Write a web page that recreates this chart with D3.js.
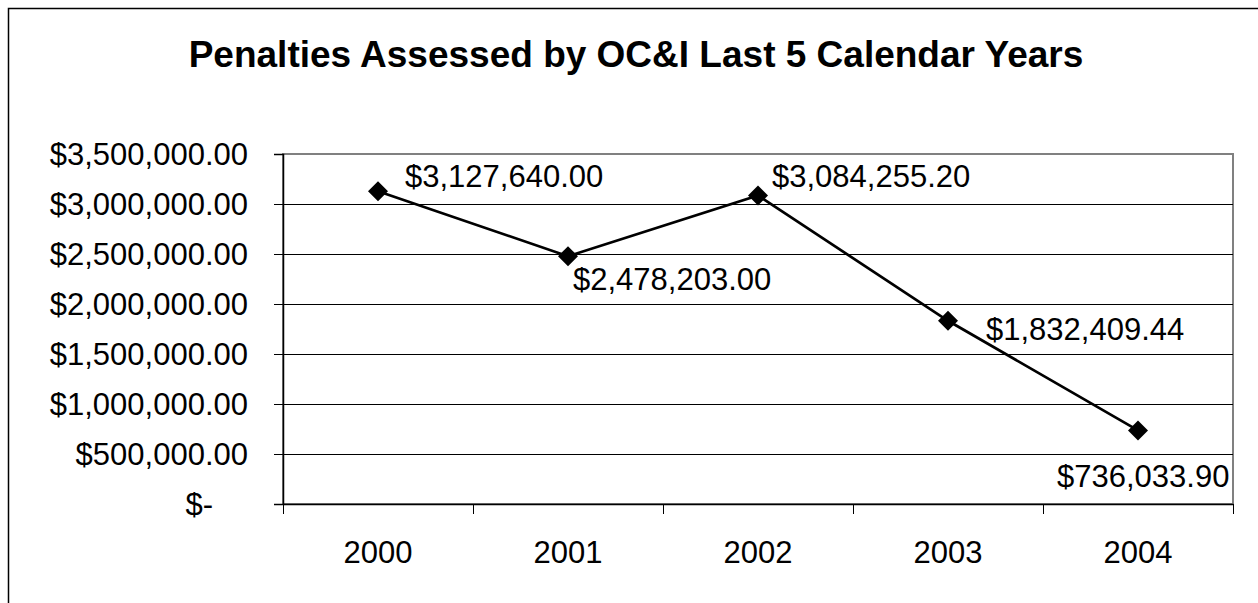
<!DOCTYPE html>
<html>
<head>
<meta charset="utf-8">
<script src="https://cdn.jsdelivr.net/npm/d3@7"></script>
<style>
  html, body { margin: 0; padding: 0; background: #fff; }
  svg { display: block; }
  text { font-family: "Liberation Sans", Arial, sans-serif; fill: #000; }
</style>
</head>
<body>
<svg id="chart" width="1258" height="603"></svg>
<script>
// ---- data ----
const title = "Penalties Assessed by OC&I Last 5 Calendar Years";
const years = ["2000", "2001", "2002", "2003", "2004"];
const penalties = [3127640.00, 2478203.00, 3084255.20, 1832409.44, 736033.90];
const yTicks = [0, 500000, 1000000, 1500000, 2000000, 2500000, 3000000, 3500000];

// ---- layout ----
const W = 1258, H = 603;
const plot = { left: 283, top: 154, right: 1233, bottom: 504 };
// per-label offsets relative to the point (dx to label start, dy to baseline)
const labelOffsets = [[27, -4], [5, 34], [14, -9], [38, 19], [-81, 57]];

const svg = d3.select("#chart");

// outer chart border (extends beyond viewport on right/bottom)
svg.append("rect")
  .attr("x", 8.5).attr("y", 8.5)
  .attr("width", 1400).attr("height", 800)
  .attr("fill", "#fff").attr("stroke", "#000").attr("stroke-width", 1.5);

// title
svg.append("text")
  .attr("x", 636).attr("y", 67)
  .attr("text-anchor", "middle")
  .attr("font-size", 37).attr("font-weight", "bold")
  .text(title);

const x = d3.scaleBand().domain(years).range([plot.left, plot.right]).padding(0);
const y = d3.scaleLinear().domain([0, 3500000]).range([plot.bottom, plot.top]);

// plot area frame (gray)
svg.append("rect")
  .attr("x", plot.left).attr("y", plot.top)
  .attr("width", plot.right - plot.left).attr("height", plot.bottom - plot.top)
  .attr("fill", "#fff").attr("stroke", "#808080").attr("stroke-width", 2);

// gridlines
svg.append("g").selectAll("line")
  .data(yTicks.filter(d => d > 0 && d < 3500000))
  .join("line")
  .attr("x1", plot.left).attr("x2", plot.right)
  .attr("y1", d => Math.round(y(d)) + 0.5).attr("y2", d => Math.round(y(d)) + 0.5)
  .attr("stroke", "#000").attr("stroke-width", 1);

// y axis
const fmt = d => d === 0 ? "$-" : "$" + d3.format(",.2f")(d);
const yAxis = svg.append("g")
  .attr("transform", `translate(${plot.left},0)`)
  .call(d3.axisLeft(y).tickValues(yTicks).tickSize(9).tickPadding(26).tickFormat(fmt));
yAxis.select(".domain").attr("stroke", "#000").attr("stroke-width", 1.5);
yAxis.selectAll(".tick line").attr("stroke", "#000");
yAxis.selectAll(".tick text")
  .attr("font-size", 31)
  .attr("font-family", '"Liberation Sans", Arial, sans-serif')
  .attr("fill", "#000")
  .attr("dy", "0.34em")
  .attr("dx", d => d === 0 ? -35 : 0);

// x axis
const xAxis = svg.append("g")
  .attr("transform", `translate(0,${plot.bottom})`)
  .call(d3.axisBottom(x).tickSize(0).tickPadding(0));
xAxis.select(".domain").attr("stroke", "#000").attr("stroke-width", 1.5);
xAxis.selectAll(".tick text")
  .attr("font-size", 31)
  .attr("font-family", '"Liberation Sans", Arial, sans-serif')
  .attr("fill", "#000")
  .attr("y", 59).attr("dy", 0);
// category boundary ticks
const bounds = years.map(d => x(d)).concat([x(years[years.length - 1]) + x.bandwidth()]);
xAxis.append("g").selectAll("line")
  .data(bounds)
  .join("line")
  .attr("x1", d => Math.round(d) + 0.5).attr("x2", d => Math.round(d) + 0.5)
  .attr("y1", 0).attr("y2", 10)
  .attr("stroke", "#000");

// line
const cx = (d, i) => x(years[i]) + x.bandwidth() / 2;
const line = d3.line().x((d, i) => cx(d, i)).y(d => y(d));
svg.append("path")
  .datum(penalties)
  .attr("d", line)
  .attr("fill", "none").attr("stroke", "#000").attr("stroke-width", 2.7);

// diamond markers
svg.append("g").selectAll("path")
  .data(penalties)
  .join("path")
  .attr("transform", (d, i) => `translate(${cx(d, i)},${y(d)})`)
  .attr("d", "M0,-10L10,0L0,10L-10,0Z")
  .attr("fill", "#000");

// data labels
svg.append("g").selectAll("text")
  .data(penalties)
  .join("text")
  .attr("x", (d, i) => cx(d, i) + labelOffsets[i][0])
  .attr("y", (d, i) => y(d) + labelOffsets[i][1])
  .attr("font-size", 31)
  .text(d => "$" + d3.format(",.2f")(d));
</script>
</body>
</html>
